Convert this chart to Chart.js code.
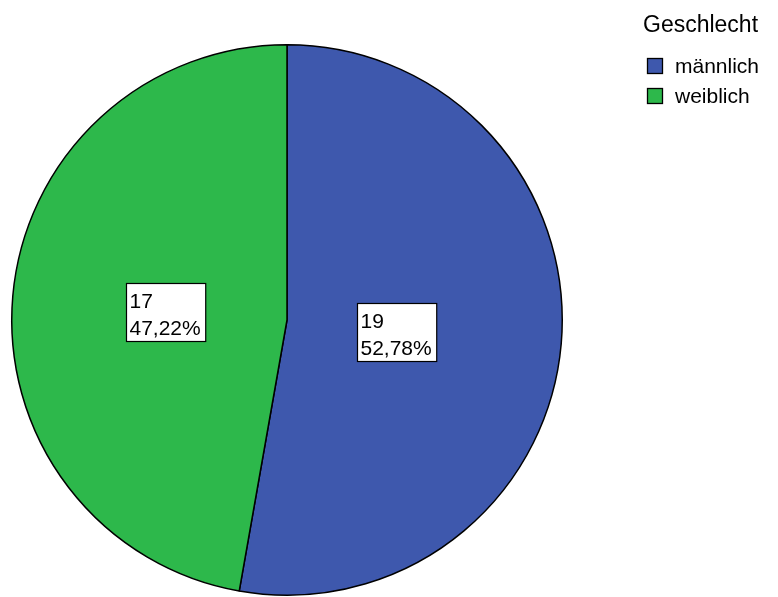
<!DOCTYPE html>
<html>
<head>
<meta charset="utf-8">
<script src="https://cdn.jsdelivr.net/npm/chart.js@4.4.1/dist/chart.umd.min.js"></script>
<style>
  html, body { margin: 0; padding: 0; background: #fff; }
  #wrap { position: relative; width: 778px; height: 597px; }
</style>
</head>
<body>
<div id="wrap"><canvas id="pie" width="778" height="597"></canvas></div>
<script>
const categories = ['männlich', 'weiblich'];
const counts = [19, 17];
const percentLabels = ['52,78%', '47,22%'];
const sliceColors = ['#3e58ad', '#2db84b'];
const legendTitle = 'Geschlecht';

const FONT = "'Liberation Sans', Arial, Helvetica, sans-serif";

// boxed "count / percent" label inside each slice
const sliceLabels = {
  id: 'sliceLabels',
  afterDatasetsDraw(chart) {
    const { ctx } = chart;
    const meta = chart.getDatasetMeta(0);
    ctx.save();
    ctx.font = `21px ${FONT}`;
    ctx.textBaseline = 'alphabetic';
    ctx.textAlign = 'left';
    meta.data.forEach((arc, i) => {
      const { x, y, startAngle, endAngle, outerRadius } = arc.getProps(
        ['x', 'y', 'startAngle', 'endAngle', 'outerRadius'], true);
      const mid = (startAngle + endAngle) / 2;
      const cx = x + Math.cos(mid) * outerRadius * 0.42 - 6;
      const cy = y + Math.sin(mid) * outerRadius * 0.42 + 2;
      const lines = [String(counts[i]), percentLabels[i]];
      const w = Math.max(...lines.map(l => ctx.measureText(l).width)) + 8;
      const h = 58;
      const bx = Math.round(cx - w / 2) + 0.5;
      const by = Math.round(cy - h / 2) + 0.5;
      ctx.fillStyle = '#fff';
      ctx.fillRect(bx, by, w, h);
      ctx.strokeStyle = '#000';
      ctx.lineWidth = 1.2;
      ctx.strokeRect(bx, by, w, h);
      ctx.fillStyle = '#000';
      ctx.fillText(lines[0], bx + 3, by + 24);
      ctx.fillText(lines[1], bx + 3, by + 51);
    });
    ctx.restore();
  },
};

// legend in the upper right corner
const sideLegend = {
  id: 'sideLegend',
  afterDraw(chart) {
    const { ctx } = chart;
    ctx.save();
    ctx.fillStyle = '#000';
    ctx.textAlign = 'left';
    ctx.textBaseline = 'alphabetic';
    ctx.font = `23px ${FONT}`;
    ctx.fillText(legendTitle, 643, 32);
    ctx.font = `21px ${FONT}`;
    categories.forEach((name, i) => {
      const top = 58 + i * 30;
      ctx.fillStyle = sliceColors[i];
      ctx.fillRect(647.5, top + 0.5, 15, 15);
      ctx.strokeStyle = '#000';
      ctx.lineWidth = 1.3;
      ctx.strokeRect(647.5, top + 0.5, 15, 15);
      ctx.fillStyle = '#000';
      ctx.fillText(name, 675, top + 15);
    });
    ctx.restore();
  },
};

new Chart(document.getElementById('pie'), {
  type: 'pie',
  data: {
    labels: categories,
    datasets: [{
      data: counts,
      backgroundColor: sliceColors,
      borderColor: '#000',
      borderWidth: 1.5,
    }],
  },
  options: {
    responsive: false,
    animation: false,
    layout: { padding: { left: 11, right: 215, top: 43, bottom: 0 } },
    plugins: {
      legend: { display: false },
      tooltip: { enabled: false },
    },
  },
  plugins: [sliceLabels, sideLegend],
});
</script>
</body>
</html>
